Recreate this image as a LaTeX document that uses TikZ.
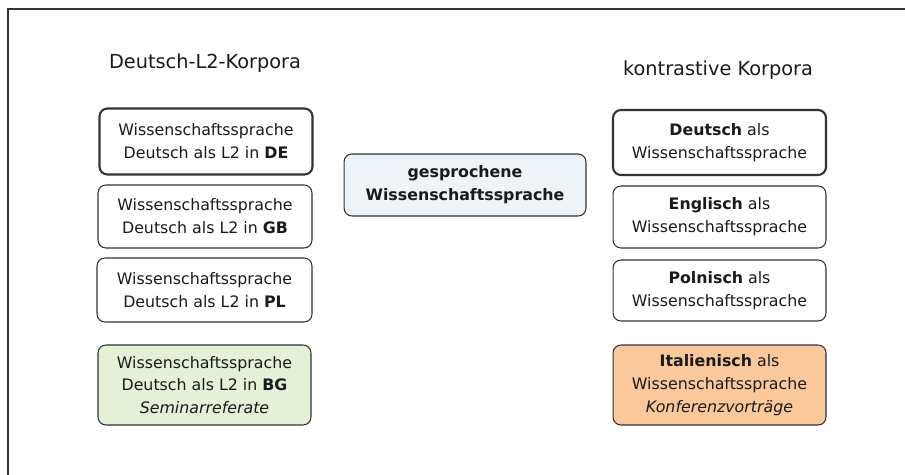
\documentclass[tikz,border=0pt]{standalone}
\usepackage{fontspec}
\setmainfont{DejaVu Sans}
\usepackage{xcolor}
\usetikzlibrary{positioning}
\definecolor{frame}{HTML}{333333}
\definecolor{ink}{HTML}{1A1A1A}
\definecolor{lightgreen}{HTML}{E4F1D6}
\definecolor{lightorange}{HTML}{FAC89B}
\definecolor{lightblue}{HTML}{EDF3F6}
\tikzset{
  korpus/.style={draw=frame, line width=0.6pt, rounded corners=4.5pt,
    align=center, text=ink, inner sep=0pt,
    font=\fontsize{9}{13}\selectfont},
  hauptkorpus/.style={korpus, line width=1.2pt},
  kopf/.style={text=ink, font=\fontsize{11}{13}\selectfont}
}
\begin{document}
\begin{tikzpicture}[x=0.02cm, y=-0.02cm]
      \useasboundingbox (0,0) rectangle (905,475);
      % Rahmen (nur oben und links sichtbar)
      \draw[frame, line width=1.2pt] (8,480) -- (8,9) -- (910,9);

      % Deutsch-L2-Korpora
      \node[kopf] (l2kopf) at (205,63) {Deutsch-L2-Korpora};
      \node[hauptkorpus, minimum width=4.26cm, minimum height=1.32cm]
        (l2de) at (206,141.5) {Wissenschaftssprache\\Deutsch als L2 in \textbf{DE}};
      \node[korpus, minimum width=4.28cm, minimum height=1.26cm]
        (l2gb) at (205,216.5) {Wissenschaftssprache\\Deutsch als L2 in \textbf{GB}};
      \node[korpus, minimum width=4.3cm, minimum height=1.28cm]
        (l2pl) at (204.5,290) {Wissenschaftssprache\\Deutsch als L2 in \textbf{PL}};
      \node[korpus, fill=lightgreen, minimum width=4.26cm, minimum height=1.6cm]
        (l2bg) at (204.5,385) {Wissenschaftssprache\\Deutsch als L2 in \textbf{BG}\\\textit{Seminarreferate}};

      % gesprochene Wissenschaftssprache
      \node[korpus, fill=lightblue, font=\fontsize{9}{13}\selectfont\bfseries,
            minimum width=4.84cm, minimum height=1.24cm]
        (gesprochen) at (465,185) {gesprochene\\Wissenschaftssprache};

      % kontrastive Korpora
      \node[kopf] (kontrakopf) at (718,70) {kontrastive Korpora};
      \node[hauptkorpus, minimum width=4.26cm, minimum height=1.3cm]
        (kontrade) at (719.5,142.5) {\textbf{Deutsch} als\\Wissenschaftssprache};
      \node[korpus, minimum width=4.26cm, minimum height=1.24cm]
        (kontraen) at (719.5,217) {\textbf{Englisch} als\\Wissenschaftssprache};
      \node[korpus, minimum width=4.26cm, minimum height=1.22cm]
        (kontrapl) at (719.5,290.5) {\textbf{Polnisch} als\\Wissenschaftssprache};
      \node[korpus, fill=lightorange, minimum width=4.26cm, minimum height=1.6cm]
        (kontrait) at (719.5,385) {\textbf{Italienisch} als\\Wissenschaftssprache\\\textit{Konferenzvorträge}};
\end{tikzpicture}
\end{document}
